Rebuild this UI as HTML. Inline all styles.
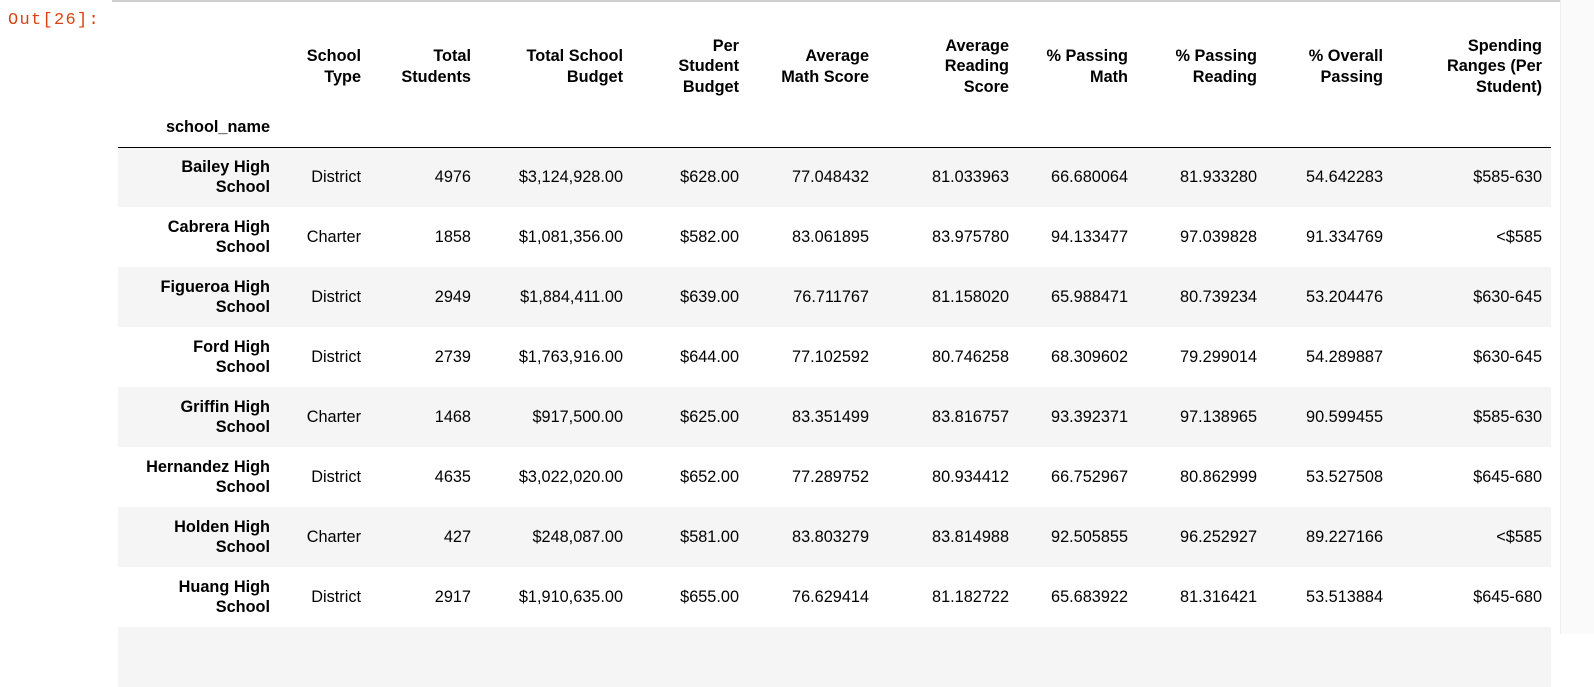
<!DOCTYPE html>
<html><head><meta charset="utf-8"><style>
body{margin:0;width:1594px;height:634px;overflow:hidden;background:#fff;font-family:"Liberation Sans",Arial,sans-serif;position:relative}
.topline{position:absolute;left:112px;top:0;width:1448px;height:2px;background:#d0d0d0}
.rightstrip{position:absolute;left:1560px;top:0;width:34px;height:634px;background:#fafafa;border-left:1px solid #eee}
.prompt{position:absolute;left:8px;top:11px;font-family:"Liberation Mono",monospace;font-size:17px;letter-spacing:1.3px;color:#d84315}
table{position:absolute;left:118px;top:25px;border-collapse:collapse;table-layout:fixed;width:1433px;font-size:16.3px;color:#000}
th,td{text-align:right;padding:0 9px 0 0;line-height:20.5px;vertical-align:middle}
th{font-weight:bold}
thead tr.r1{height:83px}
thead tr.r2{height:39px}
thead tr.r2 th{border-bottom:1px solid #000}
tbody tr{height:60px}
tbody tr:nth-child(odd){background:#f5f5f5}
</style></head><body>
<div class="topline"></div>
<div class="rightstrip"></div>
<div class="prompt">Out[26]:</div>
<table>
<colgroup><col style="width:161px"><col style="width:91px"><col style="width:110px"><col style="width:152px"><col style="width:116px"><col style="width:130px"><col style="width:140px"><col style="width:119px"><col style="width:129px"><col style="width:126px"><col style="width:159px"></colgroup>
<thead>
<tr class="r1"><th></th><th>School<br>Type</th><th>Total<br>Students</th><th>Total School<br>Budget</th><th>Per<br>Student<br>Budget</th><th>Average<br>Math Score</th><th>Average<br>Reading<br>Score</th><th>% Passing<br>Math</th><th>% Passing<br>Reading</th><th>% Overall<br>Passing</th><th>Spending<br>Ranges (Per<br>Student)</th></tr>
<tr class="r2"><th>school_name</th><th></th><th></th><th></th><th></th><th></th><th></th><th></th><th></th><th></th><th></th></tr>
</thead>
<tbody>
<tr><th>Bailey High<br>School</th><td>District</td><td>4976</td><td>$3,124,928.00</td><td>$628.00</td><td>77.048432</td><td>81.033963</td><td>66.680064</td><td>81.933280</td><td>54.642283</td><td>$585-630</td></tr>
<tr><th>Cabrera High<br>School</th><td>Charter</td><td>1858</td><td>$1,081,356.00</td><td>$582.00</td><td>83.061895</td><td>83.975780</td><td>94.133477</td><td>97.039828</td><td>91.334769</td><td>&lt;$585</td></tr>
<tr><th>Figueroa High<br>School</th><td>District</td><td>2949</td><td>$1,884,411.00</td><td>$639.00</td><td>76.711767</td><td>81.158020</td><td>65.988471</td><td>80.739234</td><td>53.204476</td><td>$630-645</td></tr>
<tr><th>Ford High<br>School</th><td>District</td><td>2739</td><td>$1,763,916.00</td><td>$644.00</td><td>77.102592</td><td>80.746258</td><td>68.309602</td><td>79.299014</td><td>54.289887</td><td>$630-645</td></tr>
<tr><th>Griffin High<br>School</th><td>Charter</td><td>1468</td><td>$917,500.00</td><td>$625.00</td><td>83.351499</td><td>83.816757</td><td>93.392371</td><td>97.138965</td><td>90.599455</td><td>$585-630</td></tr>
<tr><th>Hernandez High<br>School</th><td>District</td><td>4635</td><td>$3,022,020.00</td><td>$652.00</td><td>77.289752</td><td>80.934412</td><td>66.752967</td><td>80.862999</td><td>53.527508</td><td>$645-680</td></tr>
<tr><th>Holden High<br>School</th><td>Charter</td><td>427</td><td>$248,087.00</td><td>$581.00</td><td>83.803279</td><td>83.814988</td><td>92.505855</td><td>96.252927</td><td>89.227166</td><td>&lt;$585</td></tr>
<tr><th>Huang High<br>School</th><td>District</td><td>2917</td><td>$1,910,635.00</td><td>$655.00</td><td>76.629414</td><td>81.182722</td><td>65.683922</td><td>81.316421</td><td>53.513884</td><td>$645-680</td></tr>
<tr><th></th><td></td><td></td><td></td><td></td><td></td><td></td><td></td><td></td><td></td><td></td></tr>
</tbody>
</table>
</body></html>
